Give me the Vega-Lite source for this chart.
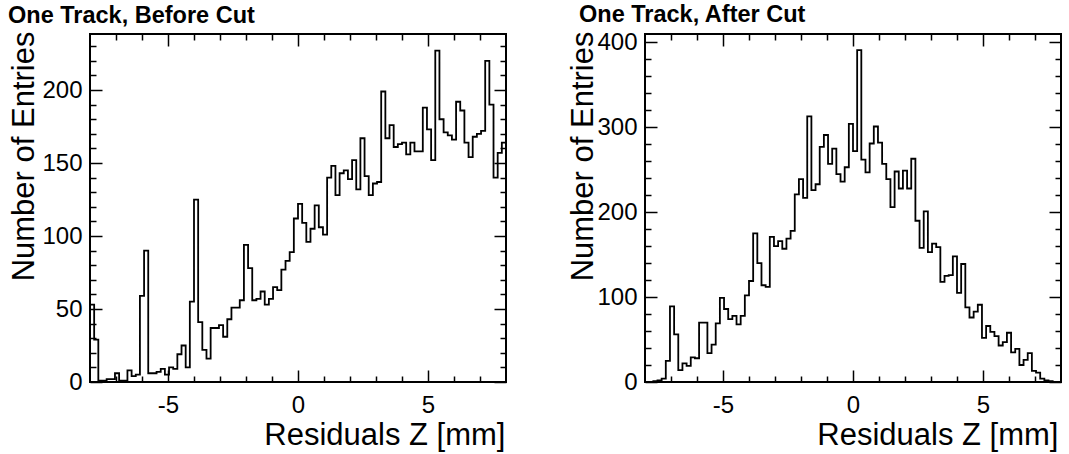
{
  "$schema": "https://vega.github.io/schema/vega-lite/v6.json",
  "autosize": {"type": "none"},
  "padding": {"left": 90, "top": 34, "right": 979, "bottom": 420},
  "background": "white",
  "bounds": "flush",
  "spacing": 139,
  "config": {
    "font": "Liberation Sans",
    "view": {"stroke": "black", "strokeWidth": 2},
    "axis": {"grid": false, "domain": false, "labelColor": "black", "titleColor": "black", "tickColor": "black", "labelFont": "Liberation Sans", "titleFont": "Liberation Sans", "tickWidth": 1.5}
  },
  "datasets": {
    "before": [
      {"z": -8.0, "n": 53}, {"z": -7.84, "n": 29}, {"z": -7.68, "n": 1}, {"z": -7.52, "n": 1}, {"z": -7.36, "n": 2},
      {"z": -7.2, "n": 2}, {"z": -7.04, "n": 6}, {"z": -6.88, "n": 1}, {"z": -6.72, "n": 1}, {"z": -6.56, "n": 8},
      {"z": -6.4, "n": 4}, {"z": -6.24, "n": 5}, {"z": -6.08, "n": 59}, {"z": -5.92, "n": 90}, {"z": -5.76, "n": 6},
      {"z": -5.6, "n": 6}, {"z": -5.44, "n": 7}, {"z": -5.28, "n": 9}, {"z": -5.12, "n": 5}, {"z": -4.96, "n": 10},
      {"z": -4.8, "n": 9}, {"z": -4.64, "n": 19}, {"z": -4.48, "n": 25}, {"z": -4.32, "n": 10}, {"z": -4.16, "n": 55},
      {"z": -4.0, "n": 125}, {"z": -3.84, "n": 41}, {"z": -3.68, "n": 22}, {"z": -3.52, "n": 16}, {"z": -3.36, "n": 37},
      {"z": -3.2, "n": 37}, {"z": -3.04, "n": 39}, {"z": -2.88, "n": 31}, {"z": -2.72, "n": 43}, {"z": -2.56, "n": 51},
      {"z": -2.4, "n": 51}, {"z": -2.24, "n": 56}, {"z": -2.08, "n": 94}, {"z": -1.92, "n": 78}, {"z": -1.76, "n": 56},
      {"z": -1.6, "n": 57}, {"z": -1.44, "n": 62}, {"z": -1.28, "n": 53}, {"z": -1.12, "n": 57}, {"z": -0.96, "n": 65},
      {"z": -0.8, "n": 63}, {"z": -0.64, "n": 77}, {"z": -0.48, "n": 83}, {"z": -0.32, "n": 89}, {"z": -0.16, "n": 112},
      {"z": 0.0, "n": 122}, {"z": 0.16, "n": 109}, {"z": 0.32, "n": 96}, {"z": 0.48, "n": 105}, {"z": 0.64, "n": 121},
      {"z": 0.8, "n": 106}, {"z": 0.96, "n": 101}, {"z": 1.12, "n": 140}, {"z": 1.28, "n": 148}, {"z": 1.44, "n": 128},
      {"z": 1.6, "n": 143}, {"z": 1.76, "n": 145}, {"z": 1.92, "n": 139}, {"z": 2.08, "n": 152}, {"z": 2.24, "n": 132},
      {"z": 2.4, "n": 167}, {"z": 2.56, "n": 141}, {"z": 2.72, "n": 128}, {"z": 2.88, "n": 136}, {"z": 3.04, "n": 137},
      {"z": 3.2, "n": 199}, {"z": 3.36, "n": 167}, {"z": 3.52, "n": 176}, {"z": 3.68, "n": 161}, {"z": 3.84, "n": 163},
      {"z": 4.0, "n": 164}, {"z": 4.16, "n": 156}, {"z": 4.32, "n": 164}, {"z": 4.48, "n": 158}, {"z": 4.64, "n": 158},
      {"z": 4.8, "n": 188}, {"z": 4.96, "n": 173}, {"z": 5.12, "n": 152}, {"z": 5.28, "n": 227}, {"z": 5.44, "n": 180},
      {"z": 5.6, "n": 171}, {"z": 5.76, "n": 169}, {"z": 5.92, "n": 166}, {"z": 6.08, "n": 192}, {"z": 6.24, "n": 186},
      {"z": 6.4, "n": 164}, {"z": 6.56, "n": 154}, {"z": 6.72, "n": 168}, {"z": 6.88, "n": 170}, {"z": 7.04, "n": 172},
      {"z": 7.2, "n": 220}, {"z": 7.36, "n": 190}, {"z": 7.52, "n": 140}, {"z": 7.68, "n": 157}, {"z": 7.84, "n": 164},
      {"z": 8.0, "n": 164}
    ],
    "after": [
      {"z": -8.0, "n": 0}, {"z": -7.84, "n": 0}, {"z": -7.68, "n": 1}, {"z": -7.52, "n": 2}, {"z": -7.36, "n": 4},
      {"z": -7.2, "n": 25}, {"z": -7.04, "n": 89}, {"z": -6.88, "n": 56}, {"z": -6.72, "n": 14}, {"z": -6.56, "n": 22},
      {"z": -6.4, "n": 19}, {"z": -6.24, "n": 29}, {"z": -6.08, "n": 28}, {"z": -5.92, "n": 70}, {"z": -5.76, "n": 70},
      {"z": -5.6, "n": 34}, {"z": -5.44, "n": 44}, {"z": -5.28, "n": 69}, {"z": -5.12, "n": 99}, {"z": -4.96, "n": 86},
      {"z": -4.8, "n": 74}, {"z": -4.64, "n": 78}, {"z": -4.48, "n": 68}, {"z": -4.32, "n": 78}, {"z": -4.16, "n": 102},
      {"z": -4.0, "n": 119}, {"z": -3.84, "n": 175}, {"z": -3.68, "n": 140}, {"z": -3.52, "n": 114}, {"z": -3.36, "n": 112},
      {"z": -3.2, "n": 171}, {"z": -3.04, "n": 160}, {"z": -2.88, "n": 166}, {"z": -2.72, "n": 157}, {"z": -2.56, "n": 169},
      {"z": -2.4, "n": 178}, {"z": -2.24, "n": 221}, {"z": -2.08, "n": 239}, {"z": -1.92, "n": 217}, {"z": -1.76, "n": 313},
      {"z": -1.6, "n": 226}, {"z": -1.44, "n": 233}, {"z": -1.28, "n": 277}, {"z": -1.12, "n": 291}, {"z": -0.96, "n": 257},
      {"z": -0.8, "n": 275}, {"z": -0.64, "n": 245}, {"z": -0.48, "n": 236}, {"z": -0.32, "n": 253}, {"z": -0.16, "n": 304},
      {"z": 0.0, "n": 272}, {"z": 0.16, "n": 391}, {"z": 0.32, "n": 262}, {"z": 0.48, "n": 247}, {"z": 0.64, "n": 281},
      {"z": 0.8, "n": 301}, {"z": 0.96, "n": 282}, {"z": 1.12, "n": 257}, {"z": 1.28, "n": 239}, {"z": 1.44, "n": 206},
      {"z": 1.6, "n": 248}, {"z": 1.76, "n": 228}, {"z": 1.92, "n": 249}, {"z": 2.08, "n": 228}, {"z": 2.24, "n": 263},
      {"z": 2.4, "n": 190}, {"z": 2.56, "n": 158}, {"z": 2.72, "n": 201}, {"z": 2.88, "n": 153}, {"z": 3.04, "n": 163},
      {"z": 3.2, "n": 159}, {"z": 3.36, "n": 118}, {"z": 3.52, "n": 125}, {"z": 3.68, "n": 126}, {"z": 3.84, "n": 148},
      {"z": 4.0, "n": 105}, {"z": 4.16, "n": 139}, {"z": 4.32, "n": 88}, {"z": 4.48, "n": 76}, {"z": 4.64, "n": 83},
      {"z": 4.8, "n": 91}, {"z": 4.96, "n": 52}, {"z": 5.12, "n": 66}, {"z": 5.28, "n": 59}, {"z": 5.44, "n": 54},
      {"z": 5.6, "n": 43}, {"z": 5.76, "n": 47}, {"z": 5.92, "n": 58}, {"z": 6.08, "n": 35}, {"z": 6.24, "n": 39},
      {"z": 6.4, "n": 20}, {"z": 6.56, "n": 26}, {"z": 6.72, "n": 34}, {"z": 6.88, "n": 13}, {"z": 7.04, "n": 11},
      {"z": 7.2, "n": 4}, {"z": 7.36, "n": 2}, {"z": 7.52, "n": 1}, {"z": 7.68, "n": 0}, {"z": 7.84, "n": 0},
      {"z": 8.0, "n": 0}
    ]
  },
  "hconcat": [
    {
      "width": 416,
      "height": 348,
      "data": {"name": "before"},
      "title": {"text": "One Track, Before Cut", "anchor": "start", "frame": "group", "fontSize": 23.5, "fontWeight": "bold", "font": "Liberation Sans", "color": "black", "baseline": "alphabetic", "offset": 12, "dx": -82, "dy": 27},
      "layer": [
        {
          "mark": {"type": "line", "interpolate": "step-after", "stroke": "black", "strokeWidth": 1.8},
          "encoding": {
            "x": {"field": "z", "type": "quantitative", "scale": {"domain": [-8, 8], "nice": false, "zero": false},
                  "axis": {"orient": "bottom", "values": [-5, 0, 5], "ticks": false, "labelFontSize": 24, "labelPadding": 11, "labelExpr": "replace(datum.label, '−', '-')", "title": "Residuals Z [mm]", "titleFontSize": 31, "titleFontWeight": "normal", "titleAlign": "right", "titleBaseline": "alphabetic", "titleX": 415, "titleY": 62}},
            "y": {"field": "n", "type": "quantitative", "scale": {"domain": [0, 238.4], "nice": false},
                  "axis": {"orient": "left", "values": [0, 50, 100, 150, 200], "ticks": false, "labelFontSize": 24, "labelPadding": 8, "labelBaseline": "middle", "title": "Number of Entries", "titleFontSize": 31, "titleFontWeight": "normal", "titleAngle": -90, "titleAlign": "right", "titleBaseline": "alphabetic", "titleX": -57, "titleY": -3}}
          }
        },
        {
          "mark": {"type": "point", "opacity": 0},
          "encoding": {
            "x": {"field": "z", "type": "quantitative", "axis": {"orient": "bottom", "values": [-5, 0, 5], "labels": false, "tickSize": -12, "title": null}},
            "y": {"field": "n", "type": "quantitative", "axis": {"orient": "left", "values": [0, 50, 100, 150, 200], "labels": false, "tickSize": -12, "title": null}}
          }
        },
        {
          "mark": {"type": "point", "opacity": 0},
          "encoding": {
            "x": {"field": "z", "type": "quantitative", "axis": {"orient": "bottom", "values": [-7, -6, -4, -3, -2, -1, 1, 2, 3, 4, 6, 7], "labels": false, "tickSize": -6, "title": null}},
            "y": {"field": "n", "type": "quantitative", "axis": {"orient": "left", "values": [10, 20, 30, 40, 60, 70, 80, 90, 110, 120, 130, 140, 160, 170, 180, 190, 210, 220, 230], "labels": false, "tickSize": -6, "title": null}}
          }
        },
        {
          "mark": {"type": "point", "opacity": 0},
          "encoding": {
            "x": {"field": "z", "type": "quantitative", "axis": {"orient": "top", "values": [-5, 0, 5], "labels": false, "tickSize": -12, "title": null}},
            "y": {"field": "n", "type": "quantitative", "axis": {"orient": "right", "values": [0, 50, 100, 150, 200], "labels": false, "tickSize": -12, "title": null}}
          }
        },
        {
          "mark": {"type": "point", "opacity": 0},
          "encoding": {
            "x": {"field": "z", "type": "quantitative", "axis": {"orient": "top", "values": [-7, -6, -4, -3, -2, -1, 1, 2, 3, 4, 6, 7], "labels": false, "tickSize": -6, "title": null}},
            "y": {"field": "n", "type": "quantitative", "axis": {"orient": "right", "values": [10, 20, 30, 40, 60, 70, 80, 90, 110, 120, 130, 140, 160, 170, 180, 190, 210, 220, 230], "labels": false, "tickSize": -6, "title": null}}
          }
        }
      ],
      "resolve": {"axis": {"x": "independent", "y": "independent"}}
    },
    {
      "width": 416,
      "height": 348,
      "data": {"name": "after"},
      "title": {"text": "One Track, After Cut", "anchor": "start", "frame": "group", "fontSize": 23.5, "fontWeight": "bold", "font": "Liberation Sans", "color": "black", "baseline": "alphabetic", "offset": 12, "dx": -66, "dy": 27},
      "layer": [
        {
          "mark": {"type": "line", "interpolate": "step-after", "stroke": "black", "strokeWidth": 1.8},
          "encoding": {
            "x": {"field": "z", "type": "quantitative", "scale": {"domain": [-8, 8], "nice": false, "zero": false},
                  "axis": {"orient": "bottom", "values": [-5, 0, 5], "ticks": false, "labelFontSize": 24, "labelPadding": 11, "labelExpr": "replace(datum.label, '−', '-')", "title": "Residuals Z [mm]", "titleFontSize": 31, "titleFontWeight": "normal", "titleAlign": "right", "titleBaseline": "alphabetic", "titleX": 413, "titleY": 62}},
            "y": {"field": "n", "type": "quantitative", "scale": {"domain": [0, 410], "nice": false},
                  "axis": {"orient": "left", "values": [0, 100, 200, 300, 400], "ticks": false, "labelFontSize": 24, "labelPadding": 8, "labelBaseline": "middle", "title": "Number of Entries", "titleFontSize": 31, "titleFontWeight": "normal", "titleAngle": -90, "titleAlign": "right", "titleBaseline": "alphabetic", "titleX": -53, "titleY": -3}}
          }
        },
        {
          "mark": {"type": "point", "opacity": 0},
          "encoding": {
            "x": {"field": "z", "type": "quantitative", "axis": {"orient": "bottom", "values": [-5, 0, 5], "labels": false, "tickSize": -12, "title": null}},
            "y": {"field": "n", "type": "quantitative", "axis": {"orient": "left", "values": [0, 100, 200, 300, 400], "labels": false, "tickSize": -12, "title": null}}
          }
        },
        {
          "mark": {"type": "point", "opacity": 0},
          "encoding": {
            "x": {"field": "z", "type": "quantitative", "axis": {"orient": "bottom", "values": [-7, -6, -4, -3, -2, -1, 1, 2, 3, 4, 6, 7], "labels": false, "tickSize": -6, "title": null}},
            "y": {"field": "n", "type": "quantitative", "axis": {"orient": "left", "values": [20, 40, 60, 80, 120, 140, 160, 180, 220, 240, 260, 280, 320, 340, 360, 380], "labels": false, "tickSize": -6, "title": null}}
          }
        },
        {
          "mark": {"type": "point", "opacity": 0},
          "encoding": {
            "x": {"field": "z", "type": "quantitative", "axis": {"orient": "top", "values": [-5, 0, 5], "labels": false, "tickSize": -12, "title": null}},
            "y": {"field": "n", "type": "quantitative", "axis": {"orient": "right", "values": [0, 100, 200, 300, 400], "labels": false, "tickSize": -12, "title": null}}
          }
        },
        {
          "mark": {"type": "point", "opacity": 0},
          "encoding": {
            "x": {"field": "z", "type": "quantitative", "axis": {"orient": "top", "values": [-7, -6, -4, -3, -2, -1, 1, 2, 3, 4, 6, 7], "labels": false, "tickSize": -6, "title": null}},
            "y": {"field": "n", "type": "quantitative", "axis": {"orient": "right", "values": [20, 40, 60, 80, 120, 140, 160, 180, 220, 240, 260, 280, 320, 340, 360, 380], "labels": false, "tickSize": -6, "title": null}}
          }
        }
      ],
      "resolve": {"axis": {"x": "independent", "y": "independent"}}
    }
  ]
}
